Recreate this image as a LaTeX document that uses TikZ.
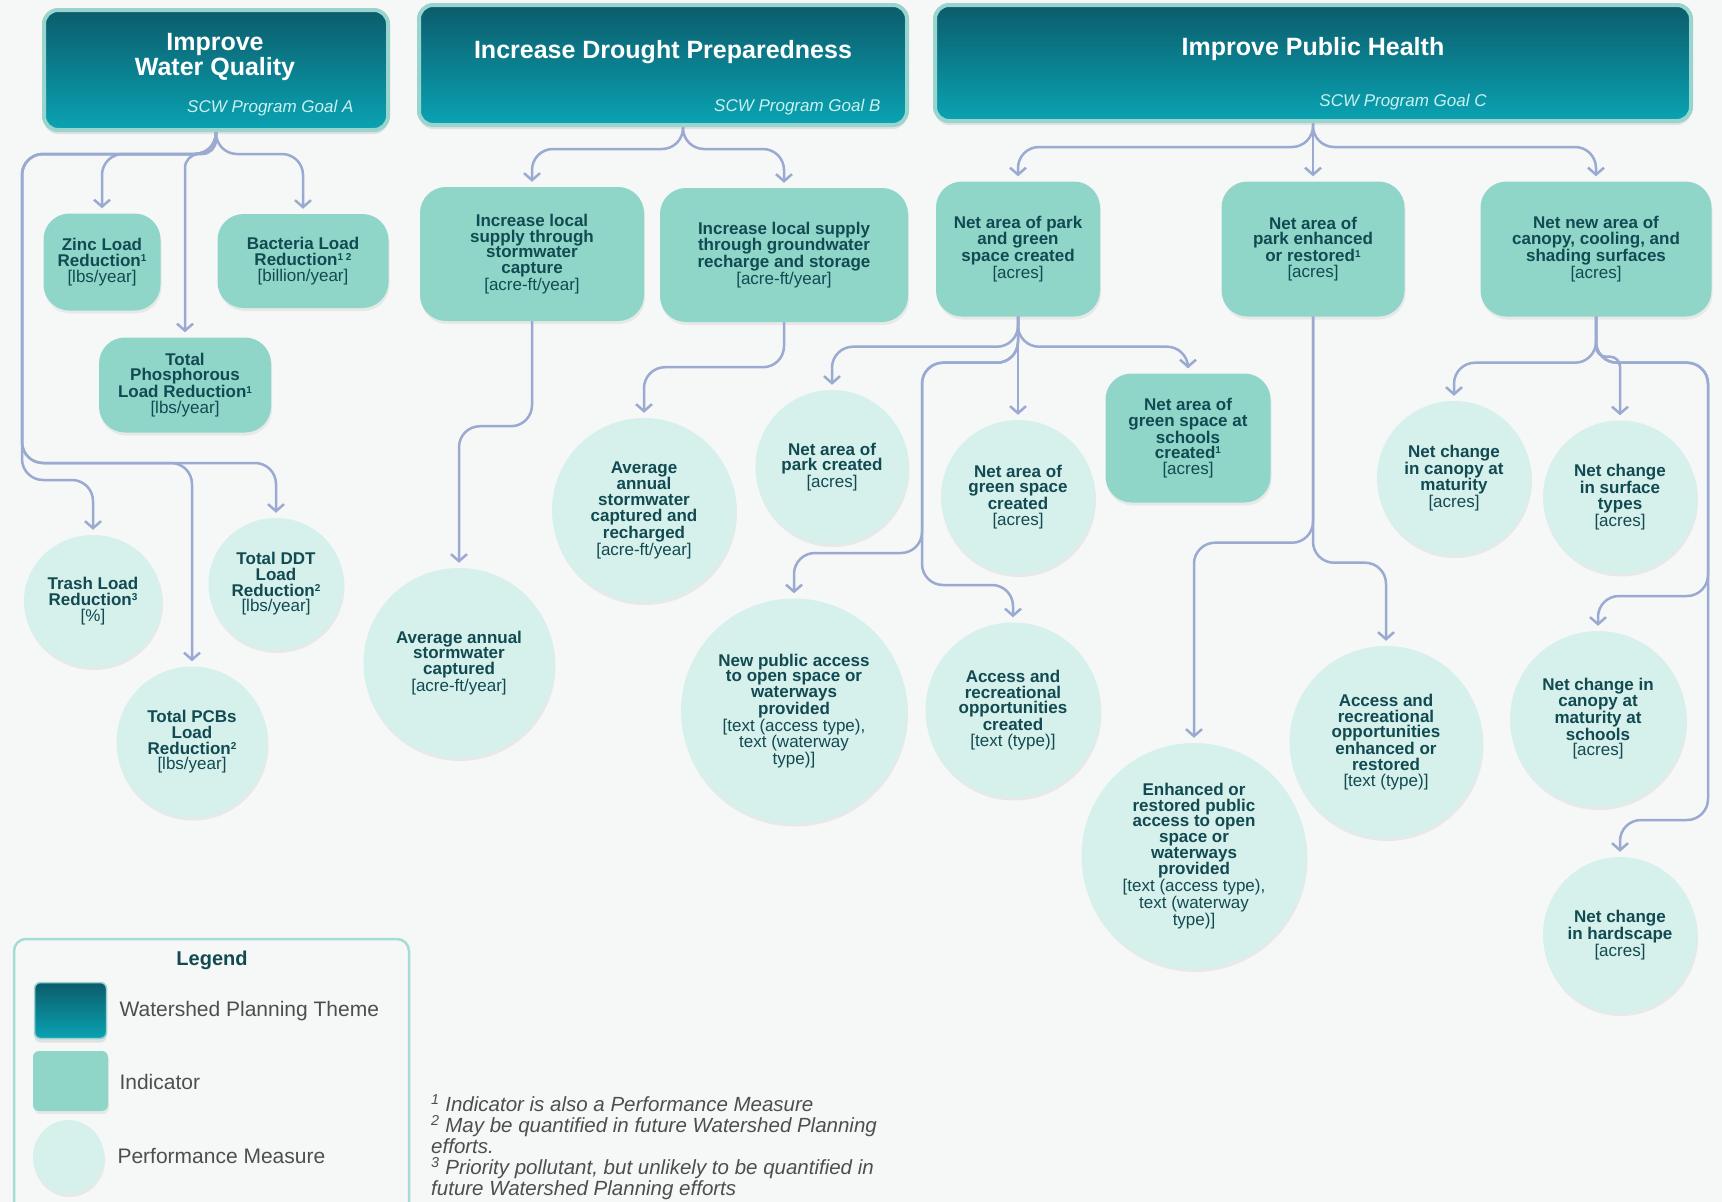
\documentclass[tikz,border=0pt]{standalone}
\usepackage{fontspec}
\setmainfont{Liberation Sans}
\usetikzlibrary{arrows.meta,shapes.geometric,shadows}

\definecolor{bgcol}{HTML}{F6F8F8}
\definecolor{goaltop}{HTML}{0B5C6B}
\definecolor{goalbot}{HTML}{0AA3B3}
\definecolor{goalrim}{HTML}{9AD4CE}
\definecolor{indfill}{HTML}{8FD6C9}
\definecolor{pmfill}{HTML}{D6F0EC}
\definecolor{inktxt}{HTML}{124A52}
\definecolor{linkcol}{HTML}{9AAAD0}
\definecolor{subtxt}{HTML}{C9F1F0}
\definecolor{legrim}{HTML}{A6DDD3}
\definecolor{greytxt}{HTML}{4A4F50}

\newcommand{\fnref}[1]{\raisebox{0.28em}{\fontsize{10}{10}\selectfont #1}}

\tikzset{
  goal/.style={rounded corners=14pt, draw=goalrim, line width=4pt, top color=goaltop, bottom color=goalbot,
    drop shadow={opacity=0.18, shadow xshift=0pt, shadow yshift=-4pt}},
  goaltitle/.style={text=white, align=center, font=\fontsize{25}{25}\selectfont\bfseries},
  goalsub/.style={text=subtxt, font=\fontsize{17}{17}\selectfont\itshape},
  indicator/.style={rounded corners=26pt, fill=indfill, text=inktxt, align=center, inner sep=2pt,
    font=\fontsize{17}{15.7}\selectfont\bfseries,
    drop shadow={opacity=0.12, shadow xshift=1pt, shadow yshift=-3pt}},
  measure/.style={ellipse, fill=pmfill, text=inktxt, align=center, inner sep=0pt,
    font=\fontsize{17}{15.7}\selectfont\bfseries,
    drop shadow={opacity=0.12, shadow xshift=1pt, shadow yshift=-3pt}},
  link/.style={draw=linkcol, line width=2.5pt, rounded corners=21pt, shorten >=5pt,
    -{Straight Barb[length=7pt,width=16pt]}},
  legtext/.style={anchor=west, text=greytxt, font=\fontsize{21}{21}\selectfont},
}

\begin{document}
\begin{tikzpicture}[x=1pt, y=-1pt]
\useasboundingbox (0,0) rectangle (1722,1202);
\fill[bgcol] (0,0) rectangle (1722,1202);

% themes
\node[goal, minimum width=344pt, minimum height=120pt] (gA) at (216,70) {};
\node[goal, minimum width=488pt, minimum height=120pt] (gB) at (663,65) {};
\node[goal, minimum width=756pt, minimum height=116pt] (gC) at (1313,63) {};
\node[goaltitle] (gAtitle) at (215,57) {Improve\\Water Quality};
\node[goalsub, anchor=east] (gAsub) at (357,108) {SCW Program Goal A};
\node[goaltitle] (gBtitle) at (663,52) {Increase Drought Preparedness};
\node[goalsub, anchor=east] (gBsub) at (884,107) {SCW Program Goal B};
\node[goaltitle] (gCtitle) at (1313,49) {Improve Public Health};
\node[goalsub] (gCsub) at (1403,102) {SCW Program Goal C};

% indicators
\node[indicator, minimum width=117pt, minimum height=97pt] (zinc) at (102,262)
  {Zinc Load\\Reduction\fnref{1}\\\mdseries[lbs/year]};
\node[indicator, minimum width=171pt, minimum height=94pt] (bact) at (303,261)
  {Bacteria Load\\Reduction\fnref{1 2}\\\mdseries[billion/year]};
\node[indicator, minimum width=172pt, minimum height=95pt] (phos) at (185,385)
  {Total\\Phosphorous\\Load Reduction\fnref{1}\\\mdseries[lbs/year]};
\node[indicator, minimum width=224pt, minimum height=134pt] (capt) at (532,254)
  {Increase local\\supply through\\stormwater\\capture\\\mdseries[acre-ft/year]};
\node[indicator, minimum width=248pt, minimum height=134pt] (gwr) at (784,255)
  {Increase local supply\\through groundwater\\recharge and storage\\\mdseries[acre-ft/year]};
\node[indicator, minimum width=164pt, minimum height=135pt] (pgs) at (1018,249)
  {Net area of park\\and green\\space created\\\mdseries[acres]};
\node[indicator, minimum width=183pt, minimum height=135pt] (pers) at (1313,249)
  {Net area of\\park enhanced\\or restored\fnref{1}\\\mdseries[acres]};
\node[indicator, minimum width=231pt, minimum height=135pt] (canopy) at (1596,249)
  {Net new area of\\canopy, cooling, and\\shading surfaces\\\mdseries[acres]};
\node[indicator, minimum width=165pt, minimum height=129pt] (school) at (1188,438)
  {Net area of\\green space at\\schools\\created\fnref{1}\\\mdseries[acres]};

% performance measures
\node[measure, minimum width=138pt, minimum height=132pt] (trash) at (93,601)
  {Trash Load\\Reduction\fnref{3}\\\mdseries[\%]};
\node[measure, minimum width=135pt, minimum height=132pt] (ddt) at (276,584)
  {Total DDT\\Load\\Reduction\fnref{2}\\\mdseries[lbs/year]};
\node[measure, minimum width=151pt, minimum height=151pt] (pcb) at (192,742)
  {Total PCBs\\Load\\Reduction\fnref{2}\\\mdseries[lbs/year]};
\node[measure, minimum width=191pt, minimum height=190pt] (avgc) at (459,663)
  {Average annual\\stormwater\\captured\\\mdseries[acre-ft/year]};
\node[measure, minimum width=184pt, minimum height=184pt] (avgr) at (644,510)
  {Average\\annual\\stormwater\\captured and\\recharged\\\mdseries[acre-ft/year]};
\node[measure, minimum width=153pt, minimum height=154pt] (parkc) at (832,467)
  {Net area of\\park created\\\mdseries[acres]};
\node[measure, minimum width=154pt, minimum height=154pt] (greenc) at (1018,497)
  {Net area of\\green space\\created\\\mdseries[acres]};
\node[measure, minimum width=226pt, minimum height=225pt] (newacc) at (794,711)
  {New public access\\to open space or\\waterways\\provided\\\mdseries[text (access type),\\\mdseries text (waterway\\\mdseries type)]};
\node[measure, minimum width=175pt, minimum height=175pt] (recc) at (1013,710)
  {Access and\\recreational\\opportunities\\created\\\mdseries[text (type)]};
\node[measure, minimum width=225pt, minimum height=226pt] (enhacc) at (1194,856)
  {Enhanced or\\restored public\\access to open\\space or\\waterways\\provided\\\mdseries[text (access type),\\\mdseries text (waterway\\\mdseries type)]};
\node[measure, minimum width=193pt, minimum height=192pt] (recenh) at (1386,742)
  {Access and\\recreational\\opportunities\\enhanced or\\restored\\\mdseries[text (type)]};
\node[measure, minimum width=154pt, minimum height=154pt] (canmat) at (1454,478)
  {Net change\\in canopy at\\maturity\\\mdseries[acres]};
\node[measure, minimum width=154pt, minimum height=153pt] (surf) at (1620,497)
  {Net change\\in surface\\types\\\mdseries[acres]};
\node[measure, minimum width=176pt, minimum height=176pt] (canschool) at (1598,719)
  {Net change in\\canopy at\\maturity at\\schools\\\mdseries[acres]};
\node[measure, minimum width=154pt, minimum height=156pt] (hard) at (1620,935)
  {Net change\\in hardscape\\\mdseries[acres]};

% turning points
\coordinate (aLoopA) at (22,463);
\coordinate (aLoopB) at (22,480);
\coordinate (pgsL) at (922,553);
\coordinate (pgsR) at (922,585);
\coordinate (cR1) at (1708,596);
\coordinate (cR2) at (1708,820);

% water quality
\draw[link] (gA.south) -- ++(0,22) -| (zinc.north);
\draw[link, rounded corners=14pt] (gA.south) -- ++(0,22) -| (phos.north);
\draw[link] (gA.south) -- ++(0,22) -| (bact.north);
\draw[link] (gA.south) -- ++(0,22) -| (aLoopA) -| (ddt.north);
\draw[link] (gA.south) -- ++(0,22) -| (aLoopA) -| (pcb.north);
\draw[link] (gA.south) -- ++(0,22) -| (aLoopB) -| (trash.north);

% drought
\draw[link] ([xshift=20pt]gB.south) -- ++(0,22) -| (capt.north);
\draw[link] ([xshift=20pt]gB.south) -- ++(0,22) -| (gwr.north);
\draw[link] (capt.south) -- ++(0,105) -| (avgc.north);
\draw[link] (gwr.south) -- ++(0,45) -| (avgr.north);

% public health
\draw[link] (gC.south) -- ++(0,24) -| (pgs.north);
\draw[link] (gC.south) -- (pers.north);
\draw[link] (gC.south) -- ++(0,24) -| (canopy.north);

\draw[link] (pgs.south) -- ++(0,30) -| (parkc.north);
\draw[link] (pgs.south) -- (greenc.north);
\draw[link] (pgs.south) -- ++(0,30) -| (school.north);
\draw[link] (pgs.south) -- ++(0,46) -| (pgsL) -| (newacc.north);
\draw[link] (pgs.south) -- ++(0,46) -| (pgsR) -| (recc.north);

\draw[link] (pers.south) -- ++(0,226) -| (enhacc.north);
\draw[link] (pers.south) -- ++(0,246) -| (recenh.north);

\draw[link] (canopy.south) -- ++(0,46) -| (canmat.north);
\draw[link, rounded corners=10pt] (canopy.south) -- ++(0,40) -| (surf.north);
\draw[link] (canopy.south) -- ++(0,46) -| (cR1) -| (canschool.north);
\draw[link] (canopy.south) -- ++(0,46) -| (cR2) -| (hard.north);

% legend
\node[draw=legrim, line width=2.5pt, rounded corners=12pt, minimum width=395pt, minimum height=290pt] (legend) at (211.5,1084) {};
\node[text=inktxt, font=\fontsize{20}{20}\selectfont\bfseries] (legtitle) at (212,960) {Legend};
\node[goal, line width=1.5pt, rounded corners=6pt, minimum width=72pt, minimum height=56pt] (keyTheme) at (70.5,1010.5) {};
\node[indicator, rounded corners=6pt, minimum width=75pt, minimum height=60pt] (keyInd) at (70.5,1081) {};
\node[measure, minimum width=71pt, minimum height=74pt] (keyPM) at (68.5,1157) {};
\node[legtext] (keyThemeTxt) at (116,1011) {Watershed Planning Theme};
\node[legtext] (keyIndTxt) at (116,1082) {Indicator};
\node[legtext] (keyPMTxt) at (114,1156) {Performance Measure};

% footnotes
\node[anchor=north west, align=left, inner sep=0pt, text=greytxt, font=\fontsize{20.5}{21}\selectfont\itshape] (notes) at (431,1094)
  {\textsuperscript{1} Indicator is also a Performance Measure\\
   \textsuperscript{2} May be quantified in future Watershed Planning\\
   efforts.\\
   \textsuperscript{3} Priority pollutant, but unlikely to be quantified in\\
   future Watershed Planning efforts};
\end{tikzpicture}
\end{document}
